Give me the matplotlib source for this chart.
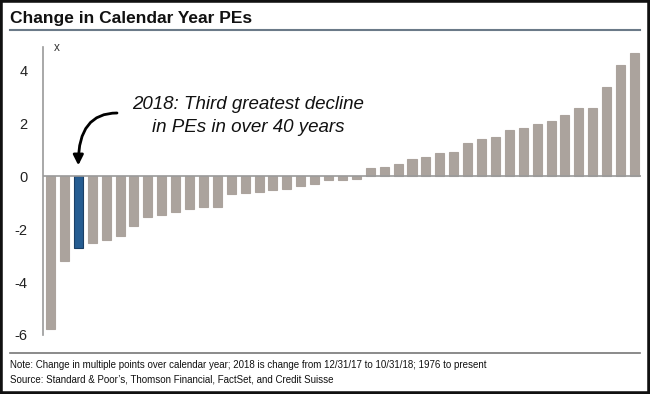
import matplotlib
matplotlib.use("Agg")
import matplotlib.pyplot as plt
from matplotlib.patches import Rectangle
from matplotlib.lines import Line2D
from matplotlib import font_manager as fm

# ---- data (sorted calendar-year PE changes, 1976-2018) ----
values = [-5.76, -3.20, -2.70, -2.53, -2.40, -2.25, -1.87, -1.55, -1.46, -1.35,
          -1.25, -1.16, -1.14, -0.65, -0.61, -0.57, -0.51, -0.49, -0.35, -0.30,
          -0.15, -0.15, -0.10, 0.32, 0.37, 0.48, 0.68, 0.74, 0.87, 0.94,
          1.25, 1.42, 1.49, 1.77, 1.83, 1.97, 2.09, 2.34, 2.59, 2.61,
          3.38, 4.22, 4.66]
highlight_index = 2  # 2018
yticks = [4, 2, 0, -2, -4, -6]
ytick_labels = ["4", "2", "0", "-2", "-4", "-6"]
title = "Change in Calendar Year PEs"
note1 = "Note: Change in multiple points over calendar year; 2018 is change from 12/31/17 to 10/31/18; 1976 to present"
note2 = "Source: Standard & Poor\u2019s, Thomson Financial, FactSet, and Credit Suisse"
annot = "2018: Third greatest decline\nin PEs in over 40 years"

names = {f.name for f in fm.fontManager.ttflist}
narrow = "Liberation Sans Narrow" if "Liberation Sans Narrow" in names else "Liberation Sans"

W, H = 650, 394
fig = plt.figure(figsize=(W / 100, H / 100), dpi=100)
fig.patch.set_facecolor("white")

ax = fig.add_axes([43 / W, 1 - 335 / H, (641 - 43) / W, (335 - 47) / H])
x = list(range(len(values)))
colors = ["#aba39d"] * len(values)
edges = ["#aba39d"] * len(values)
colors[highlight_index] = "#255c91"
edges[highlight_index] = "#1a3f66"
ax.bar(x, values, width=0.65, color=colors, edgecolor=edges, linewidth=0.8, zorder=2)
ax.axhline(0, color="#9a9a9a", lw=1.2, zorder=3)

ax.set_xlim(-0.54, 42.47)
ax.set_ylim(-5.88, 4.9)
ax.set_yticks(yticks)
ax.set_yticklabels(ytick_labels, fontsize=10.5, family="Liberation Sans", color="#222222")
ax.tick_params(axis="y", length=0, pad=11)
ax.set_xticks([])
for s in ["top", "right", "bottom"]:
    ax.spines[s].set_visible(False)
ax.spines["left"].set_color("#9a9a9a")
ax.spines["left"].set_linewidth(1.2)
ax.text(57 / W, 1 - 48 / H, "x", transform=fig.transFigure, fontsize=8.5,
        family="Liberation Sans", color="#333333", ha="center", va="center")

# annotation
ax.text(248 / W, 1 - 116 / H, annot, transform=fig.transFigure, fontsize=13.5,
        family="Liberation Sans", style="italic", ha="center", va="center",
        linespacing=1.5, color="#111111")
ax.annotate("", xy=(highlight_index, 0.42), xycoords="data",
            xytext=(117 / W, 1 - 113 / H), textcoords="figure fraction",
            arrowprops=dict(arrowstyle="-|>,head_length=0.6,head_width=0.3",
                            color="black", lw=2,
                            connectionstyle="angle3,angleA=0,angleB=90",
                            shrinkA=0, shrinkB=0))

# title and lines
fig.text(10 / W, 1 - 18 / H, title, fontsize=12.5, fontweight="bold",
         family=narrow, ha="left", va="center", color="#111111")
fig.add_artist(Line2D([10 / W, 640 / W], [1 - 29.5 / H, 1 - 29.5 / H],
                      color="#6b7a88", lw=1.5, transform=fig.transFigure))
fig.add_artist(Line2D([10 / W, 640 / W], [1 - 352.5 / H, 1 - 352.5 / H],
                      color="#777777", lw=1.2, transform=fig.transFigure))
fig.text(10 / W, 1 - 364.5 / H, note1, fontsize=7.0, family=narrow,
         ha="left", va="center", color="#111111")
fig.text(10 / W, 1 - 379.5 / H, note2, fontsize=7.0, family=narrow,
         ha="left", va="center", color="#111111")

# outer frame
fig.add_artist(Rectangle((0, 0), 1, 1, transform=fig.transFigure, fill=False,
                         edgecolor="#111111", lw=4))

fig.savefig("out.png", dpi=100)
